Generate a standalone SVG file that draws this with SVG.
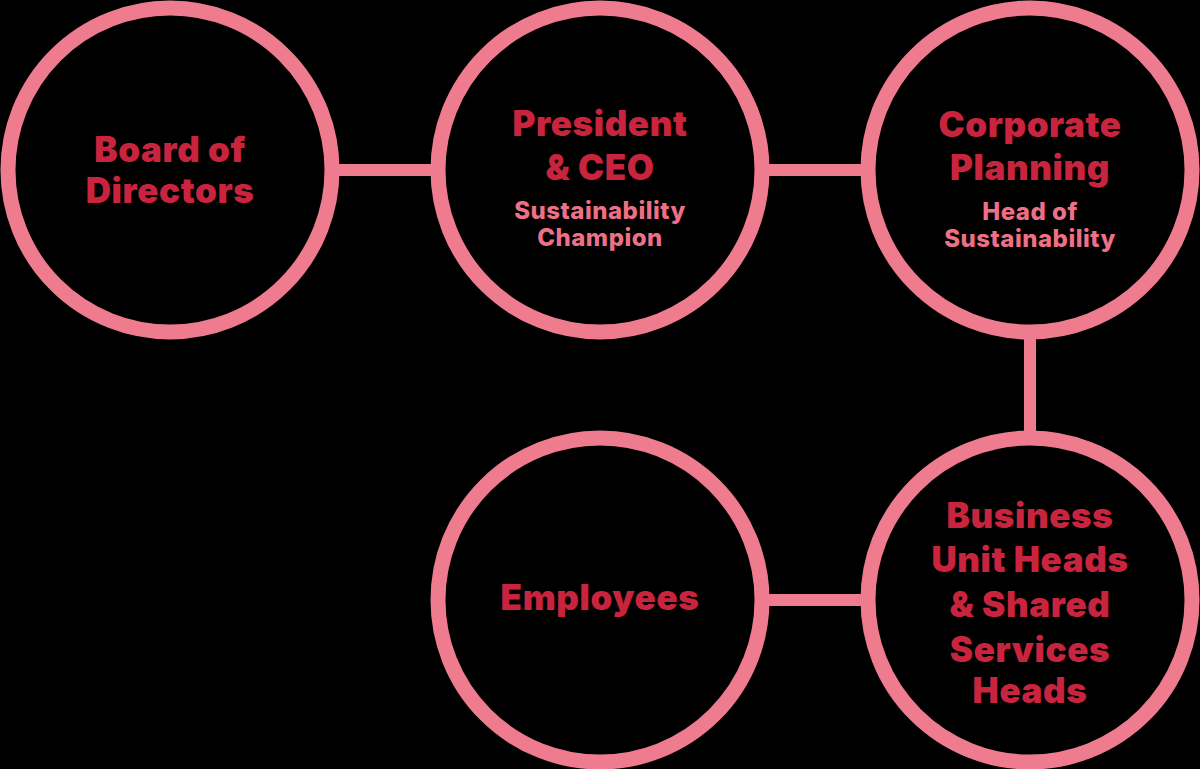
<svg xmlns="http://www.w3.org/2000/svg" width="1200" height="769" viewBox="0 0 1200 769">
<style>
.ring{fill:none;stroke:#EF7C8E;stroke-width:15}
.link{stroke:#EF7C8E;stroke-width:12;fill:none}
.t{font-family:Inter,"Liberation Sans",sans-serif;font-weight:900;font-size:35px;letter-spacing:0.6px;fill:#C8243E;text-anchor:middle}
.s{font-family:Inter,"Liberation Sans",sans-serif;font-weight:800;font-size:24px;letter-spacing:0.5px;fill:#EE7086;text-anchor:middle}
</style>
<rect width="1200" height="769" fill="#000"/>
<g id="connectors">
<line class="link" x1="338" y1="170" x2="432" y2="170"/>
<line class="link" x1="768" y1="170" x2="862" y2="170"/>
<line class="link" x1="1030" y1="338" x2="1030" y2="432"/>
<line class="link" x1="768" y1="600" x2="862" y2="600"/>
</g>
<g id="board">
<circle class="ring" cx="170" cy="170" r="162"/>
<text class="t" x="170" y="162">Board of</text>
<text class="t" x="170" y="203">Directors</text>
</g>
<g id="president">
<circle class="ring" cx="600" cy="170" r="162"/>
<text class="t" x="600" y="136">President</text>
<text class="t" x="600" y="180">&amp; CEO</text>
<text class="s" x="600" y="219">Sustainability</text>
<text class="s" x="600" y="246">Champion</text>
</g>
<g id="corporate">
<circle class="ring" cx="1030" cy="170" r="162"/>
<text class="t" x="1030" y="137">Corporate</text>
<text class="t" x="1030" y="180">Planning</text>
<text class="s" x="1030" y="220">Head of</text>
<text class="s" x="1030" y="247">Sustainability</text>
</g>
<g id="employees">
<circle class="ring" cx="600" cy="600" r="162"/>
<text class="t" x="600" y="610">Employees</text>
</g>
<g id="business">
<circle class="ring" cx="1030" cy="600" r="162"/>
<text class="t" x="1030" y="528">Business</text>
<text class="t" x="1030" y="572">Unit Heads</text>
<text class="t" x="1030" y="617">&amp; Shared</text>
<text class="t" x="1030" y="662">Services</text>
<text class="t" x="1030" y="703">Heads</text>
</g>
</svg>
